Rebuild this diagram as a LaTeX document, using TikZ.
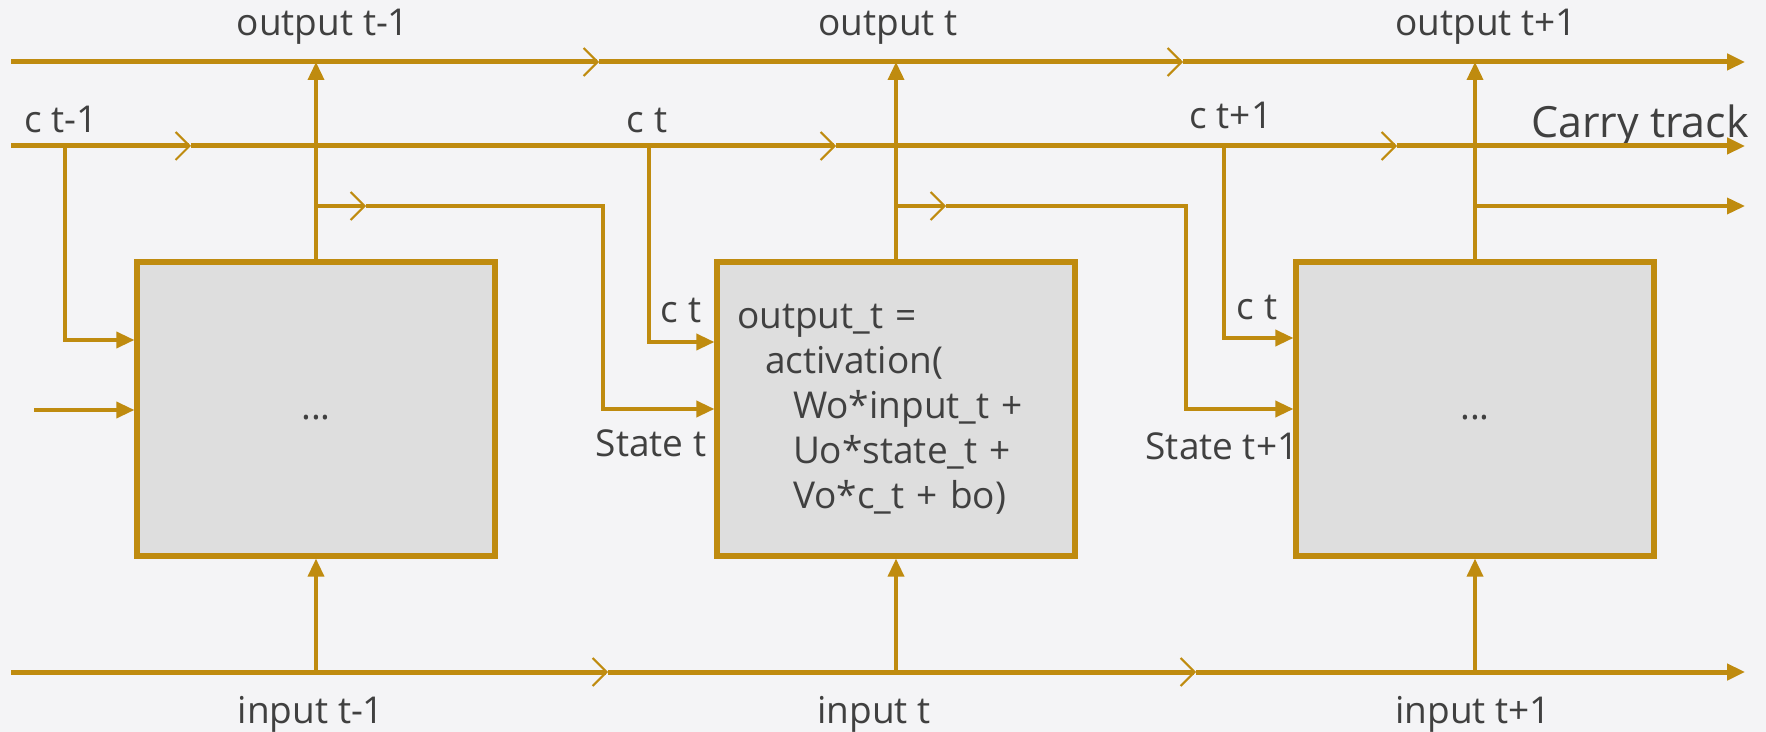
\documentclass[tikz,border=0pt]{standalone}
\usepackage{fontspec}
\setmainfont{Open Sans}
\usetikzlibrary{arrows.meta}
\definecolor{gold}{RGB}{191,139,15}
\definecolor{cellgray}{RGB}{222,222,222}
\definecolor{paper}{RGB}{244,244,246}
\definecolor{ink}{RGB}{64,64,64}
\tikzset{
  cell/.style={draw=gold, fill=cellgray, line width=2.6pt, minimum width=179pt,
    minimum height=147pt, inner sep=0pt, text=ink, font=\fontsize{18.5}{22.5}\selectfont},
  lab/.style={text=ink, font=\fontsize{18.5}{21}\selectfont, inner sep=0pt, anchor=base},
  track/.style={draw=gold, line width=2.5pt},
  wire/.style={draw=gold, line width=1.8pt},
  tip/.style={-{Triangle[length=9pt,width=8pt]}},
  chev/.style={-{Straight Barb[length=7pt,width=14pt,line width=1pt]}},
}
\newcommand{\celldots}{\smash{\raisebox{-5.5pt}{...}}}
\begin{document}
\begin{tikzpicture}[x=0.5pt,y=-0.5pt]
      \fill[paper] (0,0) rectangle (1766,732);
      \useasboundingbox (0,0) rectangle (1766,732);
      % cells
      \node[cell] (b1) at (316,409) {\celldots};
      \node[cell, text width=159pt, inner xsep=10pt, align=left] (b2) at (896,409)
        {output\_t =\\
         \hspace*{14pt}activation(\\
         \hspace*{28pt}Wo*input\_t +\\
         \hspace*{28pt}Uo*state\_t +\\
         \hspace*{28pt}Vo*c\_t + bo)};
      \node[cell] (b3) at (1475,409) {\celldots};
      % tracks
      \coordinate (o0) at (11,62);
      \coordinate (o1) at (599,62);
      \coordinate (o2) at (1183,62);
      \coordinate (o3) at (1745,62);
      \coordinate (c0) at (11,146);
      \coordinate (c1) at (191,146);
      \coordinate (c2) at (836,146);
      \coordinate (c3) at (1397,146);
      \coordinate (c4) at (1745,146);
      \coordinate (i0) at (11,672);
      \coordinate (i1) at (608,672);
      \coordinate (i2) at (1196,672);
      \coordinate (i3) at (1745,672);
      % branch points
      \coordinate (d1) at (65,146);
      \coordinate (d2) at (649,146);
      \coordinate (d3) at (1224,146);
      \coordinate (s1) at (316,206);
      \coordinate (s1m) at (366,206);
      \coordinate (s1e) at (603,206);
      \coordinate (s2) at (896,206);
      \coordinate (s2m) at (946,206);
      \coordinate (s2e) at (1186,206);
      \coordinate (s3) at (1475,206);
      \coordinate (s3e) at (1745,206);
      \coordinate (x1) at (34,410);
      % labels
      \node[lab] (lo1) at (323,36) {output t-1};
      \node[lab] (lo2) at (888,36) {output t};
      \node[lab] (lo3) at (1486,36) {output t+1};
      \node[lab] (lc1) at (61,133) {c t-1};
      \node[lab] (lc2) at (647,133) {c t};
      \node[lab] (lc3) at (1231,129) {c t+1};
      \node[lab, font=\fontsize{21.5}{24}\selectfont] (lcarry) at (1640,138) {Carry track};
      \node[lab] (lct2) at (681,323) {c t};
      \node[lab] (lct3) at (1257,320) {c t};
      \node[lab] (ls2) at (651,457) {State t};
      \node[lab] (ls3) at (1222,459) {State t+1};
      \node[lab] (li1) at (311,723) {input t-1};
      \node[lab] (li2) at (874,723) {input t};
      \node[lab] (li3) at (1473,723) {input t+1};
      \begin{scope}
        \draw[track,chev] (o0) -- (o1);
        \draw[track,chev] (o1) -- (o2);
        \draw[track,tip] (o2) -- (o3);
        \draw[track,chev] (c0) -- (c1);
        \draw[track,chev] (c1) -- (c2);
        \draw[track,chev] (c2) -- (c3);
        \draw[track,tip] (c3) -- (c4);
        \draw[track,chev] (i0) -- (i1);
        \draw[track,chev] (i1) -- (i2);
        \draw[track,tip] (i2) -- (i3);
        \draw[wire,tip] (b1.north) -- (b1.north |- o0);
        \draw[wire,tip] (b2.north) -- (b2.north |- o0);
        \draw[wire,tip] (b3.north) -- (b3.north |- o0);
        \draw[wire,tip] (b1.south |- i0) -- (b1.south);
        \draw[wire,tip] (b2.south |- i0) -- (b2.south);
        \draw[wire,tip] (b3.south |- i0) -- (b3.south);
        \draw[wire,tip] (d1) |- (b1.west |- 0,340);
        \draw[wire,tip] (d2) |- (b2.west |- 0,342);
        \draw[wire,tip] (d3) |- (b3.west |- 0,338);
        \draw[wire,tip] (x1) -- (x1 -| b1.west);
        \draw[wire,chev] (s1) -- (s1m);
        \draw[wire,tip] (s1m) -- (s1e) |- (b2.west);
        \draw[wire,chev] (s2) -- (s2m);
        \draw[wire,tip] (s2m) -- (s2e) |- (b3.west);
        \draw[wire,tip] (s3) -- (s3e);
      \end{scope}
    \end{tikzpicture}
\end{document}
